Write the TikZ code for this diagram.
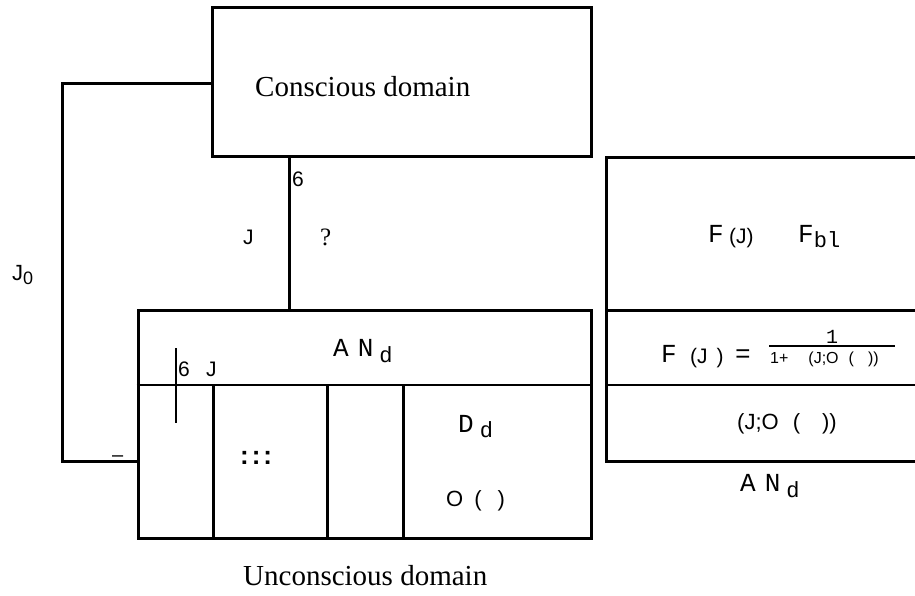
\documentclass[tikz,border=0pt]{standalone}
\usepackage{fontspec}
\setmainfont{Liberation Serif}
\newfontfamily\monof{Liberation Mono}
\newfontfamily\sansf{Liberation Sans}
\newcommand\fsz[1]{\fontsize{#1}{#1}\selectfont}
\begin{document}
\begin{tikzpicture}[x=1pt,y=-1pt,
  thickline/.style={line width=3pt},
  thinline/.style={line width=2.2pt},
  lbl/.style={inner sep=0pt, anchor=base west},
  box/.style={draw, line width=3pt, rectangle, inner sep=0pt},
]
\useasboundingbox (0,0) rectangle (915,596);
\fill[white] (0,0) rectangle (915,596);

% main boxes
\node[box, minimum width=379pt, minimum height=149pt] (cons) at (401.5,82.5) {};
\node[box, minimum width=453pt, minimum height=228pt] (low) at (364.5,424) {};

% feedback loop
\coordinate (fbx) at (62,0);
\coordinate (fbtop) at (0,84);
\coordinate (fbbot) at (0,461);
\draw[thickline] (cons.west |- fbtop) -- (fbtop -| fbx) |- (low.west |- fbbot);

% vertical J connector
\coordinate (jx) at (289,0);
\draw[thickline] (cons.south -| jx) -- (low.north -| jx);

% lower box interior
\coordinate (ydiv) at (0,385);
\draw[thinline] (low.west |- ydiv) -- (low.east |- ydiv);
\coordinate (v1) at (213,0);
\coordinate (v2) at (327,0);
\coordinate (v3) at (403,0);
\draw[thickline] (v1 |- ydiv) -- (v1 |- low.south);
\draw[thickline] (v2 |- ydiv) -- (v2 |- low.south);
\draw[thickline] (v3 |- ydiv) -- (v3 |- low.south);
\coordinate (sja) at (176,348);
\coordinate (sjb) at (176,423);
\draw[thinline] (sja) -- (sjb);

% right box (open at the right edge)
\coordinate (ra) at (915,158);
\coordinate (rb) at (606,158);
\coordinate (rc) at (606,461);
\coordinate (rd) at (915,461);
\draw[thickline] (ra) -- (rb) -- (rc) -- (rd);
\coordinate (re) at (606,310);
\coordinate (rf) at (915,310);
\draw[thickline] (re) -- (rf);
\coordinate (rg) at (606,385);
\coordinate (rh) at (915,385);
\draw[thinline] (rg) -- (rh);

% texts
\node[lbl] (tcons) at (255,97) {\fsz{29}Conscious domain};
\node[lbl] (tuncons) at (243,585) {\fsz{29}Unconscious domain};
\node[lbl] (tj0) at (12,280) {\sansf\fsz{22}J\raisebox{-4pt}{\fsz{18}0}};
\node[lbl] (tminus) at (112,461) {\sansf\fsz{20}\textendash};
\node[lbl] (tsix) at (292,186) {\sansf\fsz{21}6};
\node[lbl] (tj) at (243,244) {\sansf\fsz{21}J};
\node[lbl] (tq) at (320,245) {\fsz{25}?};
\node[lbl] (tsix2) at (178,376) {\sansf\fsz{21}6};
\node[lbl] (tj2) at (206,376) {\sansf\fsz{21}J};
\node[lbl] (tand) at (333,356) {\monof\fsz{26}A\hspace{9pt}N\hspace{6pt}\raisebox{-6pt}{\fsz{22}d}};
\node[lbl] (tdots) at (240,464) {\sansf\bfseries\fsz{26}:\hspace{3pt}:\hspace{3pt}:};
\node[lbl] (tdd) at (458,432) {\monof\fsz{26}D\hspace{6pt}\raisebox{-5pt}{\fsz{22}d}};
\node[lbl] (to) at (446,506) {\sansf\fsz{22}O\hspace{11pt}(\hspace{16pt})};
\node[lbl] (tf1) at (708,242) {\monof\fsz{26}F};
\node[lbl] (tpj1) at (729,243) {\sansf\fsz{21}(J)};
\node[lbl] (tfbl) at (798,242) {\monof\fsz{26}F\raisebox{-5pt}{\fsz{22}bl}};
\node[lbl] (tf2) at (661,362) {\monof\fsz{26}F};
\node[lbl] (tpj2) at (690,363) {\sansf\fsz{21}(J\hspace{9pt})};
\node[lbl] (teq) at (735,362) {\monof\fsz{26}=};
\coordinate (fa) at (769,346);
\coordinate (fb) at (895,346);
\draw[line width=1.8pt] (fa) -- (fb);
\node[lbl] (tnum) at (826,343) {\monof\fsz{20}1};
\node[lbl] (tden) at (770,363) {\sansf\fsz{16}1+\hspace{20pt}(J;O\hspace{10pt}(\hspace{14pt}))};
\node[lbl] (tjo) at (737,429) {\sansf\fsz{22}(J;O\hspace{14pt}(\hspace{22pt}))};
\node[lbl] (tand2) at (740,491) {\monof\fsz{26}A\hspace{9pt}N\hspace{6pt}\raisebox{-6pt}{\fsz{22}d}};
\end{tikzpicture}
\end{document}
